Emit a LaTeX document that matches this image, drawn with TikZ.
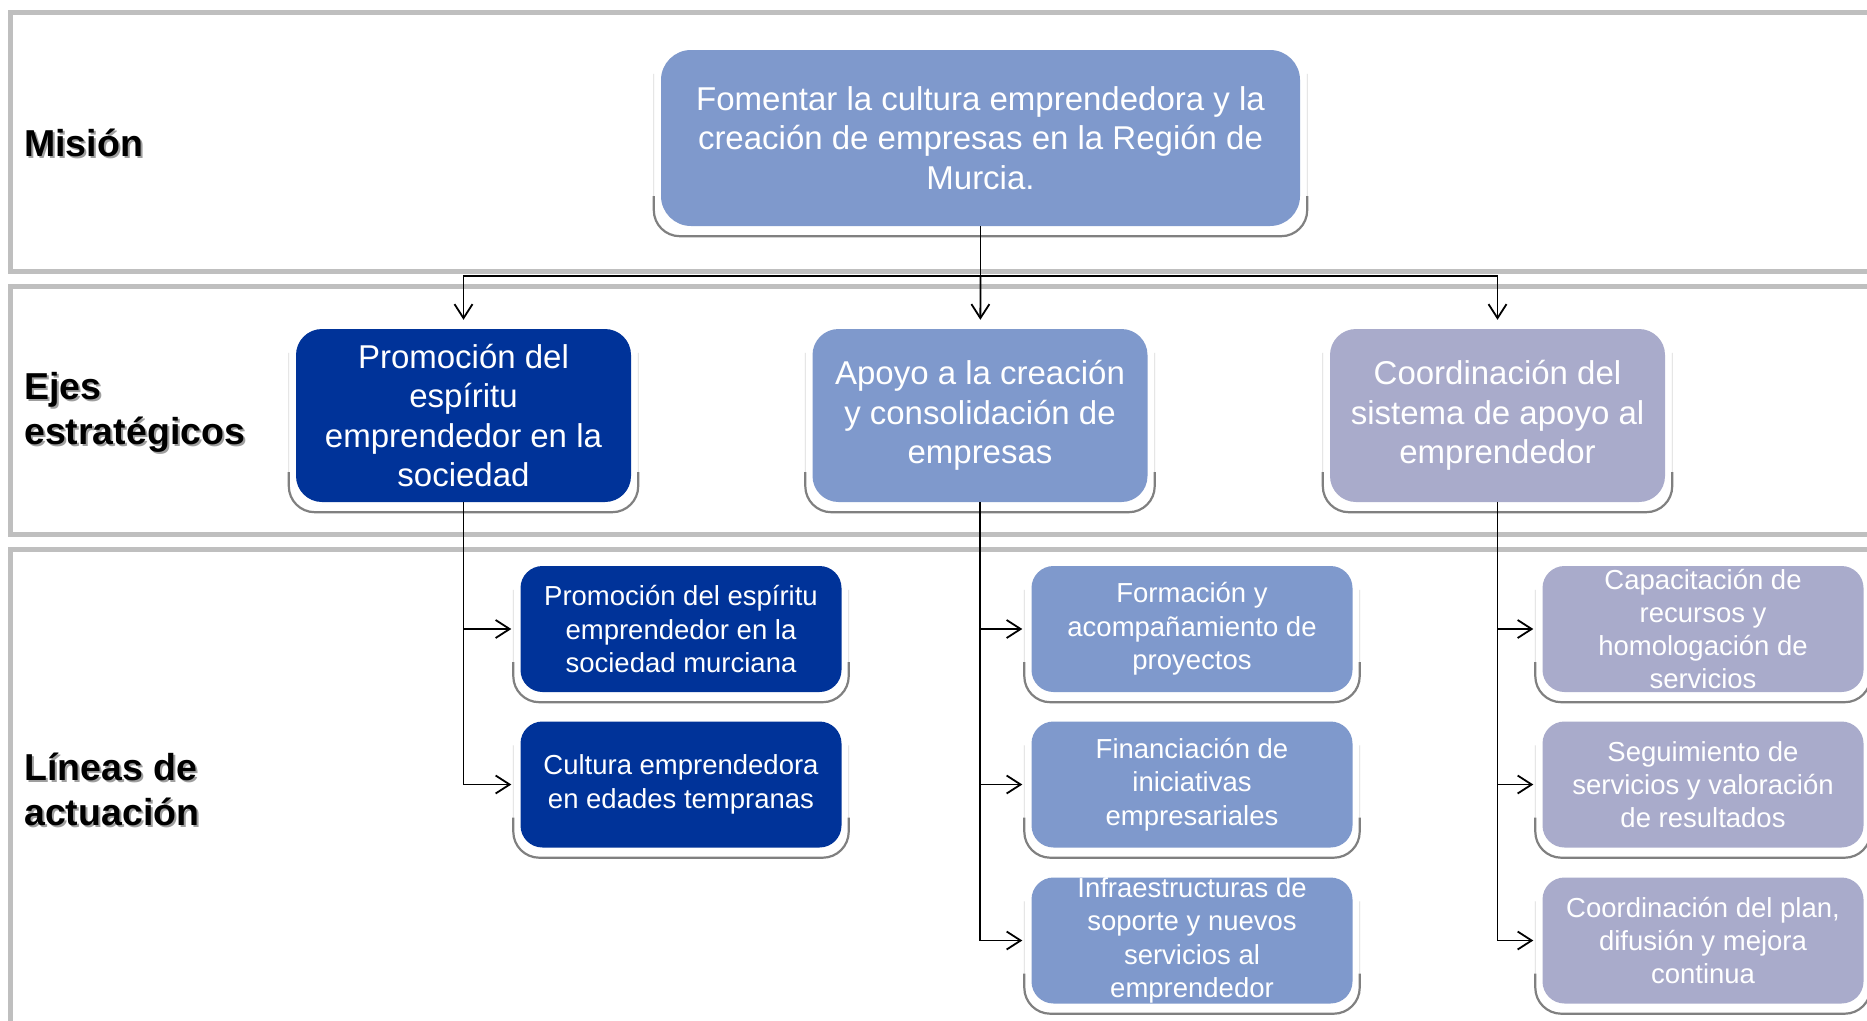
\documentclass[tikz,border=0pt]{standalone}
\usepackage{fontspec}
\setmainfont{Liberation Sans}
\usetikzlibrary{arrows.meta}
\definecolor{dblue}{HTML}{003399}
\definecolor{mblue}{HTML}{7F99CC}
\definecolor{lav}{HTML}{A9ABCB}
\definecolor{framegray}{HTML}{BFBFBF}
\begin{document}
\begin{tikzpicture}[x=1pt,y=-1pt,
  frame/.style={draw=framegray,line width=5pt},
  bigbox/.style={rounded corners=26pt,text=white,align=center,font=\fontsize{33}{39.5}\selectfont,inner sep=0pt},
  ejebox/.style={bigbox,minimum width=335pt,minimum height=173pt},
  smallbox/.style={rounded corners=22pt,text=white,align=center,font=\fontsize{27.5}{33.3}\selectfont,inner sep=0pt,minimum width=321pt,minimum height=126pt},
  lbl/.style={anchor=west,align=left,font=\bfseries\fontsize{37.5}{45}\selectfont,inner sep=0pt},
  lblshadow/.style={lbl,text=gray!75},
  conn/.style={draw=black,line width=1.8pt},
  arr/.style={conn,-{Straight Barb[length=14pt,width=18pt]},shorten >=9pt},
  rimline/.style={draw=gray!30,line width=0.8pt,rounded corners=26pt},
  rimshadow/.style={draw=gray,line width=2.2pt,rounded corners=26pt},
]
\useasboundingbox (0,0) rectangle (1867,1020);
\fill[white] (0,0) rectangle (1867,1020);

% bands
\draw[frame] (1885,12) -| (10,271.5) -- (1885,271.5);
\draw[frame] (1885,286.5) -| (10,534.5) -- (1885,534.5);
\draw[frame] (1885,549.5) -| (10,1035);

% labels
\node[lblshadow] (l1s) at (26,145) {Misión};
\node[lbl] (l1) at (24,143) {Misión};
\node[lblshadow] (l2s) at (26,414) {Ejes\\estratégicos};
\node[lbl] (l2) at (24,412) {Ejes\\estratégicos};
\node[lblshadow] (l3s) at (26,791) {Líneas de\\actuación};
\node[lbl] (l3) at (24,789) {Líneas de\\actuación};

% mission
\node[bigbox,fill=mblue,minimum width=639pt,minimum height=176pt,rounded corners=30pt] (m) at (980.5,138)
  {Fomentar la cultura emprendedora y la\\creación de empresas en la Región de\\Murcia.};

% ejes
\node[ejebox,fill=dblue] (e1) at (463.5,415.5) {Promoción del\\espíritu\\emprendedor en la\\sociedad};
\node[ejebox,fill=mblue] (e2) at (980,415.5) {Apoyo a la creación\\y consolidación de\\empresas};
\node[ejebox,fill=lav] (e3) at (1497.5,415.5) {Coordinación del\\sistema de apoyo al\\emprendedor};

% lineas
\node[smallbox,fill=dblue] (a1) at (681,629) {Promoción del espíritu\\emprendedor en la\\sociedad murciana};
\node[smallbox,fill=dblue] (a2) at (681,784.5) {Cultura emprendedora\\en edades tempranas};
\node[smallbox,fill=mblue] (b1) at (1192,629) {Formación y\\acompañamiento de\\proyectos};
\node[smallbox,fill=mblue] (b2) at (1192,784.5) {Financiación de\\iniciativas\\empresariales};
\node[smallbox,fill=mblue] (b3) at (1192,940.5) {Infraestructuras de\\soporte y nuevos\\servicios al\\emprendedor};
\node[smallbox,fill=lav] (c1) at (1703,629) {Capacitación de\\recursos y\\homologación de\\servicios};
\node[smallbox,fill=lav] (c2) at (1703,784.5) {Seguimiento de\\servicios y valoración\\de resultados};
\node[smallbox,fill=lav] (c3) at (1703,940.5) {Coordinación del plan,\\difusión y mejora\\continua};

% rims
\foreach \b in {m,e1,e2,e3,a1,a2,b1,b2,b3,c1,c2,c3}{
  \draw[rimline] ([shift={(-7pt,-24pt)}]\b.north west) |- ([yshift=-10pt]\b.south) -| ([shift={(7pt,-24pt)}]\b.north east);
  \draw[rimshadow] ([shift={(-7pt,30pt)}]\b.south west) |- ([yshift=-10pt]\b.south) -| ([shift={(7pt,30pt)}]\b.south east);
}

% connectors
\coordinate (j) at (980.5,276);
\draw[conn] (m) -- (j);
\draw[arr] (j) -| (e1);
\draw[arr] (j) -- (e2);
\draw[arr] (j) -| (e3);

\draw[arr] (e1) |- (a1);
\draw[arr] (e1) |- (a2);
\draw[arr] (e2) |- (b1);
\draw[arr] (e2) |- (b2);
\draw[arr] (e2) |- (b3);
\draw[arr] (e3) |- (c1);
\draw[arr] (e3) |- (c2);
\draw[arr] (e3) |- (c3);
\end{tikzpicture}
\end{document}
